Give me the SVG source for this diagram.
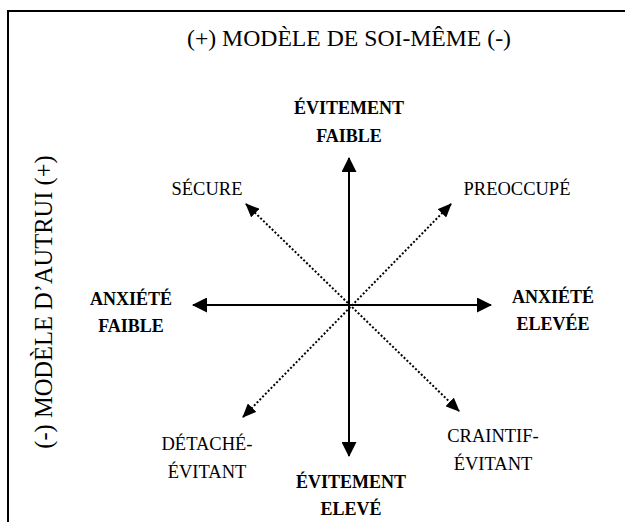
<svg xmlns="http://www.w3.org/2000/svg" width="625" height="522" viewBox="0 0 625 522" font-family="'Liberation Serif', 'DejaVu Serif', serif">
  <style>
    text { font-family: 'Liberation Serif', 'DejaVu Serif', serif; fill: #000; }
    .axis-title { font-size: 23.7px; }
    .axis-side { font-size: 24.5px; }
    .b { font-size: 18px; font-weight: bold; text-anchor: middle; }
    .r { font-size: 18.5px; text-anchor: middle; }
    .main { stroke: #000; stroke-width: 2; fill: none; }
    .dot { stroke: #000; stroke-width: 2; fill: none; stroke-dasharray: 2 2; }
    .frame { stroke: #000; stroke-width: 2; fill: none; }
  </style>
  <defs>
    <marker id="bigArrow" viewBox="0 0 15 15" refX="14" refY="7.5" markerWidth="15" markerHeight="15" markerUnits="userSpaceOnUse" orient="auto-start-reverse">
      <path d="M0,0 L15,7.5 L0,15 z" fill="#000"/>
    </marker>
    <marker id="smallArrow" viewBox="0 0 14 12" refX="13" refY="6" markerWidth="14" markerHeight="12" markerUnits="userSpaceOnUse" orient="auto-start-reverse">
      <path d="M0,0 L14,6 L0,12 z" fill="#000"/>
    </marker>
  </defs>

  <g id="frame">
    <line class="frame" x1="8" y1="11" x2="625" y2="11"/>
    <line class="frame" x1="8" y1="10" x2="8" y2="522"/>
  </g>

  <g id="connectors">
    <line class="main" x1="349" y1="158" x2="349" y2="456" marker-start="url(#bigArrow)" marker-end="url(#bigArrow)"/>
    <line class="main" x1="193" y1="305" x2="491" y2="305" marker-start="url(#bigArrow)" marker-end="url(#bigArrow)"/>
    <line class="dot" x1="246" y1="204" x2="459" y2="411" marker-start="url(#smallArrow)" marker-end="url(#smallArrow)"/>
    <line class="dot" x1="451" y1="204" x2="243" y2="417" marker-start="url(#smallArrow)" marker-end="url(#smallArrow)"/>
  </g>

  <g id="title-self">
    <text class="axis-title" x="349" y="46" text-anchor="middle">(+) MODÈLE DE SOI-MÊME (-)</text>
  </g>
  <g id="title-other">
    <text class="axis-side" x="52" y="302" text-anchor="middle" transform="rotate(-90 52 302)">(-) MODÈLE D’AUTRUI (+)</text>
  </g>

  <g id="evitement-faible">
    <text class="b" x="349" y="114">ÉVITEMENT</text>
    <text class="b" x="349" y="142">FAIBLE</text>
  </g>
  <g id="evitement-eleve">
    <text class="b" x="351" y="488">ÉVITEMENT</text>
    <text class="b" x="351" y="515">ELEVÉ</text>
  </g>
  <g id="anxiete-faible">
    <text class="b" x="131" y="305">ANXIÉTÉ</text>
    <text class="b" x="131" y="332">FAIBLE</text>
  </g>
  <g id="anxiete-elevee">
    <text class="b" x="553" y="303">ANXIÉTÉ</text>
    <text class="b" x="553" y="330">ELEVÉE</text>
  </g>
  <g id="secure">
    <text class="r" x="207" y="195">SÉCURE</text>
  </g>
  <g id="preoccupe">
    <text class="r" x="517" y="195">PREOCCUPÉ</text>
  </g>
  <g id="detache-evitant">
    <text class="r" x="207" y="450">DÉTACHÉ-</text>
    <text class="r" x="207" y="478">ÉVITANT</text>
  </g>
  <g id="craintif-evitant">
    <text class="r" x="493" y="442">CRAINTIF-</text>
    <text class="r" x="493" y="470">ÉVITANT</text>
  </g>
</svg>
